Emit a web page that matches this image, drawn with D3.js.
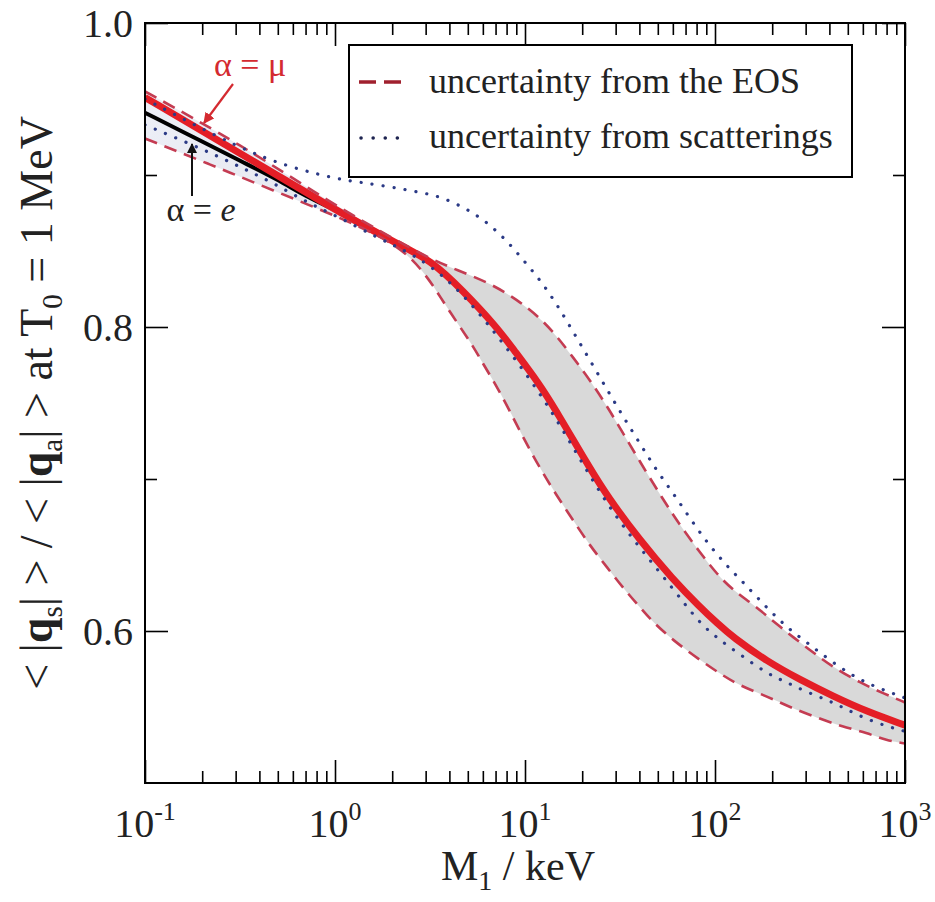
<!DOCTYPE html>
<meta charset="utf-8">
<style>
body { margin: 0; background: #fff; }
svg { font-family: "Liberation Serif", "Times New Roman", serif; }
.axis path { display: none; }
.axis line { stroke: #000; stroke-width: 1.6px; }
</style>
<body>
<script src="https://d3js.org/d3.v7.min.js"></script>
<script>
// M1 in keV, ratio <|q_s|>/<|q_a|>
var muM = [0.1, 0.32, 0.94, 2.1, 3.2, 4.7, 7.1, 8.6, 12, 14.7, 17.9, 22, 27, 40, 60, 83, 103, 124, 188, 280, 420, 630, 1000];
var muV = [0.951, 0.914, 0.879, 0.855, 0.844, 0.824, 0.800, 0.786, 0.762, 0.744, 0.726, 0.707, 0.689, 0.660, 0.634, 0.616, 0.605, 0.596, 0.580, 0.568, 0.557, 0.547, 0.538];

var eM = [0.1, 0.2, 0.32, 0.5, 0.7, 1.0];
var eV = [0.941, 0.922, 0.909, 0.897, 0.886, 0.877];

var eosHiM = [0.1, 0.32, 0.94, 2.1, 3.16, 4.38, 6.5, 9.1, 12, 14.7, 17.9, 22, 27, 32.5, 40, 53, 65, 83, 103, 124, 165, 218, 315, 420, 580, 770, 1000];
var eosHiV = [0.955, 0.920, 0.882, 0.857, 0.845, 0.8375, 0.829, 0.818, 0.806, 0.794, 0.780, 0.765, 0.748, 0.731, 0.712, 0.687, 0.670, 0.652, 0.637, 0.627, 0.616, 0.603, 0.5875, 0.576, 0.566, 0.559, 0.553];

var eosLoM = [0.1, 0.22, 0.47, 1.06, 2.19, 3.03, 3.57, 4.38, 5.3, 6.0, 7.1, 8.3, 9.8, 12, 14.7, 17.9, 22, 27, 32.5, 40, 47, 60, 83, 106, 135, 188, 246, 344, 470, 630, 800, 1000];
var eosLoV = [0.924, 0.907, 0.890, 0.872, 0.854, 0.834, 0.820, 0.803, 0.788, 0.776, 0.761, 0.745, 0.727, 0.707, 0.689, 0.673, 0.656, 0.642, 0.629, 0.616, 0.606, 0.594, 0.581, 0.572, 0.564, 0.557, 0.550, 0.543, 0.537, 0.533, 0.528, 0.526];

var scHiM = [0.1, 0.32, 0.58, 1.06, 1.4, 2.0, 2.7, 3.57, 4.9, 6.3, 8.0, 9.8, 12, 14.7, 17.9, 22, 27, 32.5, 40, 49, 60, 74, 91, 115, 141, 188, 246, 315, 400, 536, 720, 1000];
var scHiV = [0.950, 0.917, 0.905, 0.897, 0.895, 0.892, 0.889, 0.886, 0.878, 0.869, 0.857, 0.844, 0.831, 0.815, 0.797, 0.778, 0.759, 0.742, 0.724, 0.706, 0.691, 0.674, 0.658, 0.643, 0.632, 0.615, 0.601, 0.591, 0.581, 0.570, 0.5625, 0.556];

var scLoM = [0.1, 0.21, 0.32, 0.47, 0.71, 1.06, 1.66, 2.19, 3.16, 4.7, 7.1, 12, 17.9, 27, 40, 60, 83, 106, 141, 188, 240, 315, 420, 536, 720, 1000];
var scLoV = [0.933, 0.916, 0.905, 0.895, 0.882, 0.872, 0.859, 0.852, 0.841, 0.822, 0.795, 0.757, 0.721, 0.683, 0.655, 0.628, 0.605, 0.594, 0.583, 0.572, 0.566, 0.559, 0.553, 0.546, 0.539, 0.534];

var xMajor = [0.1, 1, 10, 100, 1000];
var xExp = ["-1", "0", "1", "2", "3"];
var yMajor = [0.6, 0.8, 1.0];
var yMinor = [0.7, 0.9];
var yLabels = ["0.6", "0.8", "1.0"];
var legendLabels = ["uncertainty from the EOS", "uncertainty from scatterings"];

var W = 935, H = 902;
var L = 145, R = 905, T = 23, B = 783;

var svg = d3.select("body").append("svg").attr("width", W).attr("height", H);

var x = d3.scaleLog().domain([0.1, 1000]).range([L, R]);
var y = d3.scaleLinear().domain([0.5, 1.0]).range([B, T]);

var xMinor = [];
[0.1, 1, 10, 100].forEach(function (d) {
    for (var k = 2; k <= 9; k++) xMinor.push(d * k);
});

function pts(ms, vs) { return ms.map(function (m, i) { return [m, vs[i]]; }); }

var line = d3.line()
    .x(function (d) { return x(d[0]); })
    .y(function (d) { return y(d[1]); })
    .curve(d3.curveBasis);

var defs = svg.append("defs");
defs.append("clipPath").attr("id", "clip")
    .append("rect").attr("x", L).attr("y", T).attr("width", R - L).attr("height", B - T);
var grad = defs.append("linearGradient").attr("id", "bandfill")
    .attr("gradientUnits", "userSpaceOnUse")
    .attr("x1", x(0.1)).attr("x2", x(1000)).attr("y1", 0).attr("y2", 0);
grad.append("stop").attr("offset", 0).attr("stop-color", "#eceef6");
grad.append("stop").attr("offset", (x(1.2) - L) / (R - L)).attr("stop-color", "#e6e7ee");
grad.append("stop").attr("offset", (x(3) - L) / (R - L)).attr("stop-color", "#d9d9d9");
grad.append("stop").attr("offset", 1).attr("stop-color", "#d9d9d9");

var plot = svg.append("g").attr("clip-path", "url(#clip)");

// gray EOS band
var bandD = line(pts(eosHiM, eosHiV)) +
    line(pts(eosLoM, eosLoV).reverse()).replace(/^M/, "L") + "Z";
plot.append("path").attr("d", bandD).attr("fill", "url(#bandfill)").attr("stroke", "none");

// alpha = e
plot.append("path").attr("d", line(pts(eM, eV)))
    .attr("fill", "none").attr("stroke", "#000").attr("stroke-width", 4);

// alpha = mu
plot.append("path").attr("d", line(pts(muM, muV)))
    .attr("fill", "none").attr("stroke", "#e41e26").attr("stroke-width", 7);

// EOS dashed bounds
[pts(eosHiM, eosHiV), pts(eosLoM, eosLoV)].forEach(function (p) {
    plot.append("path").attr("d", line(p))
        .attr("fill", "none").attr("stroke", "#c43c52").attr("stroke-width", 2.6)
        .attr("stroke-dasharray", "13 8");
});

// scattering dotted bounds
[pts(scHiM, scHiV), pts(scLoM, scLoV)].forEach(function (p) {
    plot.append("path").attr("d", line(p))
        .attr("fill", "none").attr("stroke", "#2b3a86").attr("stroke-width", 3.2)
        .attr("stroke-linecap", "round")
        .attr("stroke-dasharray", "0.1 11");
});

// axes ticks (inward, on all four sides)
function tickAxis(gen, vals, len, tr) {
    svg.append("g").attr("class", "axis").attr("transform", tr)
        .call(gen.tickValues(vals).tickSize(-len).tickFormat(""));
}
tickAxis(d3.axisBottom(x), xMajor, 23, "translate(0," + B + ")");
tickAxis(d3.axisBottom(x), xMinor, 12, "translate(0," + B + ")");
tickAxis(d3.axisTop(x), xMajor, 23, "translate(0," + T + ")");
tickAxis(d3.axisTop(x), xMinor, 12, "translate(0," + T + ")");
tickAxis(d3.axisLeft(y), yMajor, 23, "translate(" + L + ",0)");
tickAxis(d3.axisLeft(y), yMinor, 12, "translate(" + L + ",0)");
tickAxis(d3.axisRight(y), yMajor, 23, "translate(" + R + ",0)");
tickAxis(d3.axisRight(y), yMinor, 12, "translate(" + R + ",0)");

svg.append("rect").attr("x", L).attr("y", T).attr("width", R - L).attr("height", B - T)
    .attr("fill", "none").attr("stroke", "#000").attr("stroke-width", 2);

// y tick labels
svg.selectAll(".ylab").data(yMajor).enter().append("text")
    .attr("x", L - 12).attr("y", function (d) { return y(d) + 14; })
    .attr("text-anchor", "end").attr("font-size", 40).attr("fill", "#222")
    .text(function (d, i) { return yLabels[i]; });

// x tick labels 10^n
xMajor.forEach(function (d, i) {
    var t = svg.append("text").attr("x", x(d)).attr("y", 837)
        .attr("text-anchor", "middle").attr("font-size", 40).attr("fill", "#222");
    t.append("tspan").text("10");
    t.append("tspan").attr("font-size", 26).attr("dy", -17).text(xExp[i]);
});

// x title
var xt = svg.append("text").attr("x", 518).attr("y", 880).attr("text-anchor", "middle")
    .attr("font-size", 42).attr("fill", "#222");
xt.append("tspan").text("M");
xt.append("tspan").attr("font-size", 28).attr("dy", 10).text("1");
xt.append("tspan").attr("dy", -10).text(" / keV");

// y title
var yt = svg.append("text").attr("transform", "translate(52,403) rotate(-90)")
    .attr("text-anchor", "middle").attr("font-size", 46).attr("fill", "#222");
yt.append("tspan").text("< |");
yt.append("tspan").attr("font-weight", "bold").text("q");
yt.append("tspan").attr("font-size", 29).attr("dy", 10).text("s");
yt.append("tspan").attr("dy", -10).text("| > / < |");
yt.append("tspan").attr("font-weight", "bold").text("q");
yt.append("tspan").attr("font-size", 29).attr("dy", 10).text("a");
yt.append("tspan").attr("dy", -10).text("| >  at T");
yt.append("tspan").attr("font-size", 29).attr("dy", 10).text("0");
yt.append("tspan").attr("dy", -10).text(" = 1 MeV");

// legend
svg.append("rect").attr("x", 349).attr("y", 45).attr("width", 503).attr("height", 132)
    .attr("fill", "#fff").attr("stroke", "#000").attr("stroke-width", 2);
svg.append("line").attr("x1", 359).attr("x2", 407).attr("y1", 82).attr("y2", 82)
    .attr("stroke", "#a0202e").attr("stroke-width", 3.5).attr("stroke-dasharray", "17 8");
svg.append("line").attr("x1", 361).attr("x2", 402).attr("y1", 138).attr("y2", 138)
    .attr("stroke", "#1e2450").attr("stroke-width", 3.5).attr("stroke-linecap", "round")
    .attr("stroke-dasharray", "0.1 12");
legendLabels.forEach(function (s, i) {
    svg.append("text").attr("x", 429).attr("y", 93 + i * 55).attr("font-size", 36)
        .attr("fill", "#222").text(s);
});

// curve labels with arrows
defs.html(defs.html() +
    '<marker id="arR" viewBox="0 0 10 10" refX="9" refY="5" markerWidth="5" markerHeight="5" orient="auto">' +
    '<path d="M0,0 L10,5 L0,10 z" fill="#d42a30"/></marker>' +
    '<marker id="arK" viewBox="0 0 10 10" refX="9" refY="5" markerWidth="5" markerHeight="5" orient="auto">' +
    '<path d="M0,0 L10,5 L0,10 z" fill="#111"/></marker>');

svg.append("text").attr("x", 250).attr("y", 76).attr("text-anchor", "middle")
    .attr("font-size", 34).attr("fill", "#d42a30").text("\u03b1 = \u03bc");
svg.append("line").attr("x1", 233).attr("y1", 84).attr("x2", 204).attr("y2", 123)
    .attr("stroke", "#d42a30").attr("stroke-width", 2.2).attr("marker-end", "url(#arR)");

var et = svg.append("text").attr("x", 201).attr("y", 221).attr("text-anchor", "middle")
    .attr("font-size", 34).attr("fill", "#222");
et.append("tspan").text("\u03b1 = ");
et.append("tspan").attr("font-style", "italic").text("e");
svg.append("line").attr("x1", 192).attr("y1", 196).attr("x2", 192).attr("y2", 144)
    .attr("stroke", "#111").attr("stroke-width", 2).attr("marker-end", "url(#arK)");
</script>
</body>
